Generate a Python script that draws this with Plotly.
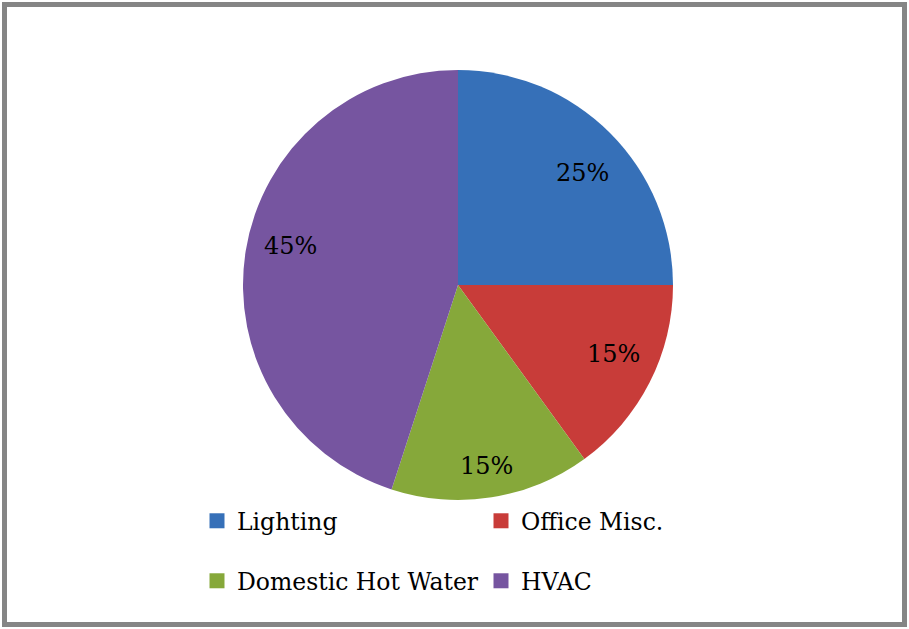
import math
import plotly.graph_objects as go

categories = ["Lighting", "Office Misc.", "Domestic Hot Water", "HVAC"]
values = [25, 15, 15, 45]
colors = ["#3670b8", "#c83c39", "#86a83a", "#7655a0"]

W, H = 909, 629
cx, cy, r = 458, 285, 215
label_radius = [0.78, 0.79, 0.85, 0.80]   # fraction of radius, best-fit like the original
label_angle_shift = [3, -3, 0, 4]        # degrees
legend_rows_y = [521, 581]  # pixel centres of the two legend rows

fig = go.Figure(go.Pie(
    labels=categories,
    values=values,
    sort=False,
    direction="clockwise",
    rotation=0,
    marker=dict(colors=colors, line=dict(width=0)),
    textinfo="none",
    showlegend=False,
    domain=dict(x=[(cx - r) / W, (cx + r) / W], y=[(H - cy - r) / H, (H - cy + r) / H]),
    hovertemplate="%{label}: %{percent:.0%}<extra></extra>",
))

# legend entries: two rows of two, like the original
for i, (cat, col) in enumerate(zip(categories, colors)):
    fig.add_trace(go.Scatter(
        x=[None], y=[None], mode="markers", name=cat,
        marker=dict(symbol="square", size=15, color=col),
        legend="legend" if i < 2 else "legend2",
        hoverinfo="skip",
    ))

# percentage labels placed like the original (outer part of each slice)
total = sum(values)
annotations = []
start = 0.0
for v, rf, shift in zip(values, label_radius, label_angle_shift):
    mid = (start + v / 2) / total * 360 + shift
    start += v
    a = math.radians(mid)
    px = cx + rf * r * math.sin(a)
    py = cy - rf * r * math.cos(a)
    annotations.append(dict(
        x=px / W, y=1 - py / H, xref="paper", yref="paper",
        text=f"{round(v / total * 100)}%", showarrow=False,
        font=dict(family="DejaVu Serif", size=24, color="black"),
        xanchor="center", yanchor="middle",
    ))

legend_common = dict(
    orientation="h",
    x=197 / W, xanchor="left",
    yanchor="middle",
    entrywidth=239, entrywidthmode="pixels",
    itemwidth=30,
    font=dict(family="DejaVu Serif", size=23.5, color="black"),
    bgcolor="rgba(0,0,0,0)",
    traceorder="normal",
)

fig.update_layout(
    width=W, height=H, autosize=False,
    margin=dict(l=0, r=0, t=0, b=0),
    paper_bgcolor="white",
    plot_bgcolor="white",
    font=dict(family="DejaVu Serif", color="black"),
    showlegend=True,
    xaxis=dict(visible=False),
    yaxis=dict(visible=False),
    legend=dict(legend_common, y=1 - legend_rows_y[0] / H),
    legend2=dict(legend_common, y=1 - legend_rows_y[1] / H),
    annotations=annotations,
    shapes=[dict(type="rect", xref="paper", yref="paper",
                 x0=4.5 / W, x1=(W - 4.5) / W, y0=4.5 / H, y1=(H - 4.5) / H,
                 line=dict(color="#858585", width=5))],
)

fig.write_html(
    "out.html",
    config={"responsive": False, "displayModeBar": False},
    post_script="document.body.style.margin='0';document.body.style.overflow='hidden';",
)
